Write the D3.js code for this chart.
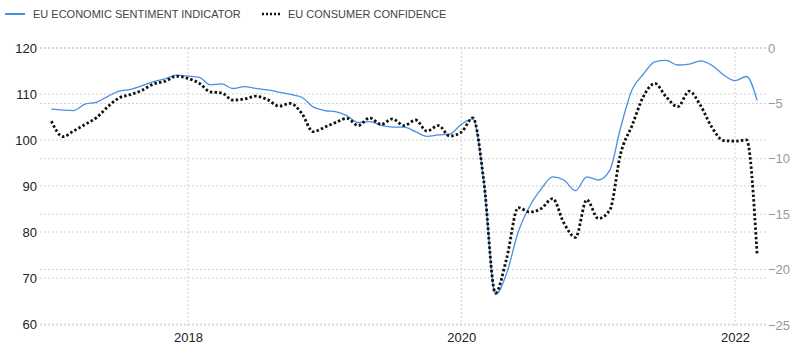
<!DOCTYPE html>
<html><head><meta charset="utf-8">
<script src="https://cdn.jsdelivr.net/npm/d3@7"></script>
<style>body{margin:0;background:#fff;}svg{display:block;font-family:"Liberation Sans",Arial,sans-serif;}</style>
</head><body>
<svg id="c" width="800" height="353"></svg>
<script>
const startYear = 2017, startMonth = 0;
const esi = [106.7,106.5,106.4,107.8,108.2,109.5,110.6,111.0,111.8,112.7,113.3,114.1,
113.9,113.6,112.0,112.2,111.2,111.6,111.2,110.9,110.4,109.9,109.3,107.2,
106.4,106.1,105.3,103.8,104.0,103.2,102.8,102.8,101.8,100.8,101.1,101.3,
103.4,104.6,91.0,66.4,71.0,80.0,85.5,89.3,92.0,91.3,89.0,92.0,
91.3,93.5,102.5,110.9,114.3,117.0,117.3,116.3,116.5,117.2,116.2,114.2,
112.9,113.8,108.6];
const cc = [-6.6,-8.0,-7.5,-6.9,-6.3,-5.3,-4.5,-4.2,-3.8,-3.25,-3.0,-2.55,
-2.75,-3.2,-3.95,-4.05,-4.7,-4.6,-4.35,-4.65,-5.25,-5.0,-5.9,-7.55,
-7.15,-6.7,-6.35,-7.0,-6.3,-6.9,-6.4,-7.0,-6.5,-7.5,-7.0,-7.95,
-7.6,-6.3,-12.0,-22.1,-19.0,-14.4,-14.8,-14.5,-13.6,-15.8,-17.1,-13.7,
-15.4,-14.6,-9.6,-7.0,-4.4,-3.2,-4.4,-5.3,-3.9,-5.2,-7.2,-8.35,
-8.4,-8.3,-18.6];
const leftTicks = [60,70,80,90,100,110,120];
const rightTicks = [-25,-20,-15,-10,-5,0];
const xTickYears = [2018,2020,2022];
const seriesNames = ["EU ECONOMIC SENTIMENT INDICATOR","EU CONSUMER CONFIDENCE"];

const dates = esi.map((_,i)=>new Date(startYear, startMonth+i, 1));
const svg = d3.select("#c");
const x = d3.scaleTime().domain([new Date(2018,0,1), new Date(2022,0,1)]).range([188,735]);
const yL = d3.scaleLinear().domain([60,120]).range([324,48]);
const yR = d3.scaleLinear().domain([-25,0]).range([325,48]);
const gx0 = 40, gx1 = 766;

const grid = svg.append("g");
leftTicks.forEach(t=>grid.append("line").attr("x1",gx0).attr("x2",gx1).attr("y1",yL(t)).attr("y2",yL(t))
  .attr("stroke","#cfcfcf").attr("stroke-dasharray","2,2"));
rightTicks.forEach(t=>grid.append("line").attr("x1",gx0).attr("x2",gx1).attr("y1",yR(t)).attr("y2",yR(t))
  .attr("stroke","#cfcfcf").attr("stroke-dasharray","2,2"));
xTickYears.forEach(yv=>{
  const xx = x(new Date(yv,0,1));
  grid.append("line").attr("x1",xx).attr("x2",xx).attr("y1",48).attr("y2",328)
   .attr("stroke","#cfcfcf").attr("stroke-dasharray","2,2");
});

const axL = svg.append("g").attr("transform",`translate(${gx0},0)`)
  .call(d3.axisLeft(yL).tickValues(leftTicks).tickSize(0).tickPadding(3));
axL.select(".domain").remove();
axL.selectAll("text").attr("font-size",13).attr("fill","#222").attr("font-family","Liberation Sans, Arial, sans-serif");
const axR = svg.append("g").attr("transform",`translate(${gx1},0)`)
  .call(d3.axisRight(yR).tickValues(rightTicks).tickSize(0).tickPadding(2));
axR.select(".domain").remove();
axR.selectAll("text").attr("font-size",13).attr("fill","#999").attr("font-family","Liberation Sans, Arial, sans-serif");
const axB = svg.append("g").attr("transform",`translate(0,328)`)
  .call(d3.axisBottom(x).tickValues(xTickYears.map(yv=>new Date(yv,0,1))).tickFormat(d3.timeFormat("%Y")).tickSize(0).tickPadding(5));
axB.select(".domain").remove();
axB.selectAll("text").attr("font-size",13).attr("fill","#222").attr("font-family","Liberation Sans, Arial, sans-serif");

const lineL = d3.line().x((d,i)=>x(dates[i])).y(d=>yL(d)).curve(d3.curveMonotoneX);
const lineR = d3.line().x((d,i)=>x(dates[i])).y(d=>yR(d)).curve(d3.curveMonotoneX);
svg.append("path").datum(esi).attr("d",lineL).attr("fill","none").attr("stroke","#4a90e2").attr("stroke-width",1.3);
svg.append("path").datum(cc).attr("d",lineR).attr("fill","none").attr("stroke","#111").attr("stroke-width",2.8).attr("stroke-dasharray","2.5,2.2");

const lg = svg.append("g");
lg.append("line").attr("x1",5).attr("x2",25).attr("y1",14).attr("y2",14).attr("stroke","#4a90e2").attr("stroke-width",2);
lg.append("text").attr("x",33).attr("y",18).attr("font-size",11).attr("fill","#444").text(seriesNames[0]);
lg.append("line").attr("x1",262).attr("x2",281).attr("y1",14).attr("y2",14).attr("stroke","#111").attr("stroke-width",2.5).attr("stroke-dasharray","2,2");
lg.append("text").attr("x",288).attr("y",18).attr("font-size",11).attr("fill","#444").text(seriesNames[1]);
</script>
</body></html>
